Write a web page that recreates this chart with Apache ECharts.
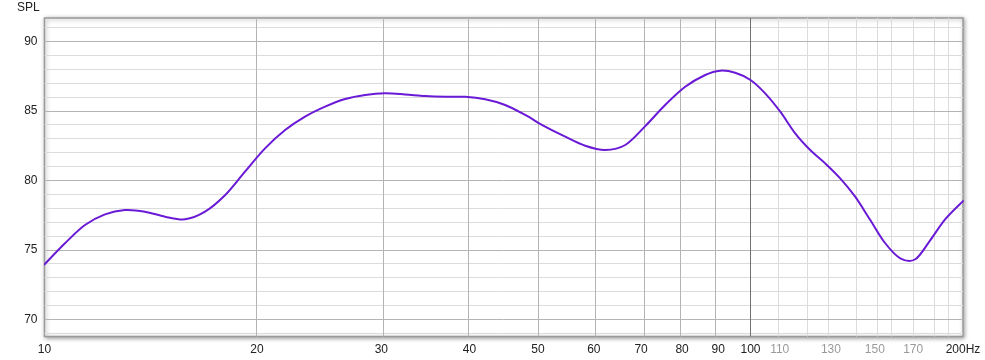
<!DOCTYPE html>
<html>
<head>
<meta charset="utf-8">
<script src="https://cdn.jsdelivr.net/npm/echarts@6/dist/echarts.min.js"></script>
<style>html,body{margin:0;padding:0;background:#fff;}#c{width:985px;height:360px;}</style>
</head>
<body>
<div id="c"></div>
<script>
// Frequency response data (Hz, dB SPL)
const freqs = [10, 10.69, 11.41, 12.18, 13.0, 13.88, 14.82, 15.82, 16.88, 18.03, 19.23, 20.53, 21.92, 23.39, 24.97, 26.66, 28.46, 30.37, 32.42, 34.61, 36.94, 39.43, 42.09, 44.93, 47.96, 51.19, 54.65, 58.33, 62.26, 66.46, 70.95, 75.7, 80.82, 86.27, 90.59, 95.13, 100, 104.9, 110.2, 115.7, 121.5, 127.6, 134.0, 140.7, 147.8, 155.2, 163.0, 171.2, 179.8, 188.8, 200];
const spl = [73.95, 75.47, 76.78, 77.55, 77.86, 77.74, 77.38, 77.19, 77.74, 78.94, 80.62, 82.3, 83.62, 84.58, 85.3, 85.85, 86.14, 86.26, 86.18, 86.06, 86.01, 86.01, 85.83, 85.42, 84.7, 83.86, 83.14, 82.49, 82.18, 82.54, 83.9, 85.42, 86.73, 87.58, 87.89, 87.74, 87.22, 86.26, 84.94, 83.38, 82.18, 81.22, 80.14, 78.82, 77.14, 75.47, 74.39, 74.32, 75.7, 77.2, 78.5];

// Tick labels
const xLabelTicks = [10, 20, 30, 40, 50, 60, 70, 80, 90, 100, 110, 130, 150, 170, 200];
const xGrayLabels = [110, 130, 150, 170];
const xMajorLines = [20, 30, 40, 50, 60, 70, 80, 90];
const xDecadeLines = [100];
const xMinorLines = [110, 120, 130, 140, 150, 160, 170, 180, 190];
const yLabelTicks = [70, 75, 80, 85, 90];
const yMajorLines = [70, 75, 80, 85, 90];
const yMinorLines = [69, 71, 72, 73, 74, 76, 77, 78, 79, 81, 82, 83, 84, 86, 87, 88, 89, 91];

const lg = v => Math.log10(v);
const seriesData = freqs.map((f, i) => [lg(f), spl[i]]);

const gridLines = [];
yMinorLines.forEach(v => gridLines.push({yAxis: v, lineStyle: {color: '#dcdcdc', width: 1, type: 'solid'}}));
xMinorLines.forEach(v => gridLines.push({xAxis: lg(v), lineStyle: {color: '#dcdcdc', width: 1, type: 'solid'}}));
yMajorLines.forEach(v => gridLines.push({yAxis: v, lineStyle: {color: '#b4b4b4', width: 1, type: 'solid'}}));
xMajorLines.forEach(v => gridLines.push({xAxis: lg(v), lineStyle: {color: '#b4b4b4', width: 1, type: 'solid'}}));
xDecadeLines.forEach(v => gridLines.push({xAxis: lg(v), lineStyle: {color: '#707070', width: 1, type: 'solid'}}));

// Smooth curve (Catmull-Rom) through the data points, positioned via the axes
function renderCurve(params, api) {
  if (params.dataIndex !== 0) return null;
  const pts = seriesData.map(d => api.coord(d));
  let path = 'M' + pts[0][0] + ' ' + pts[0][1];
  for (let i = 0; i < pts.length - 1; i++) {
    const p0 = pts[i - 1] || pts[i];
    const p1 = pts[i];
    const p2 = pts[i + 1];
    const p3 = pts[i + 2] || pts[i + 1];
    const c1x = p1[0] + (p2[0] - p0[0]) / 6, c1y = p1[1] + (p2[1] - p0[1]) / 6;
    const c2x = p2[0] - (p3[0] - p1[0]) / 6, c2y = p2[1] - (p3[1] - p1[1]) / 6;
    path += ' C' + c1x + ' ' + c1y + ' ' + c2x + ' ' + c2y + ' ' + p2[0] + ' ' + p2[1];
  }
  return {
    type: 'path',
    shape: {pathData: path},
    style: {stroke: '#6a1ad6', lineWidth: 2, fill: 'none', lineJoin: 'round', lineCap: 'round'}
  };
}

const chart = echarts.init(document.getElementById('c'), null, {renderer: 'canvas'});
chart.setOption({
  animation: false,
  backgroundColor: '#fff',
  title: {
    text: 'SPL', left: 17, top: 2, padding: 0,
    textStyle: {fontFamily: 'Liberation Sans, Arial, sans-serif', fontSize: 12, fontWeight: 'normal', color: '#222'}
  },
  grid: {
    left: 44.5, right: 22, top: 18, bottom: 23.5,
    show: true, backgroundColor: '#fff',
    borderColor: '#9a9a9a', borderWidth: 1.5,
    shadowBlur: 4, shadowColor: 'rgba(0,0,0,0.35)', shadowOffsetX: 1, shadowOffsetY: 1
  },
  xAxis: {
    type: 'value', min: lg(10), max: lg(200),
    axisLine: {show: false}, axisTick: {show: false}, splitLine: {show: false},
    axisLabel: {
      customValues: xLabelTicks.map(lg),
      margin: 7,
      fontFamily: 'Liberation Sans, Arial, sans-serif', fontSize: 12, color: '#222',
      formatter: function (v) {
        const f = Math.round(Math.pow(10, v));
        if (f === 200) return '200Hz';
        if (xGrayLabels.indexOf(f) >= 0) return '{g|' + f + '}';
        return String(f);
      },
      rich: {g: {color: '#9a9a9a', fontSize: 12, fontFamily: 'Liberation Sans, Arial, sans-serif'}}
    }
  },
  yAxis: {
    type: 'value', min: 68.76, max: 91.68,
    axisLine: {show: false}, axisTick: {show: false}, splitLine: {show: false},
    axisLabel: {
      customValues: yLabelTicks,
      margin: 7,
      fontFamily: 'Liberation Sans, Arial, sans-serif', fontSize: 12, color: '#222'
    }
  },
  series: [
    {
      type: 'line', data: [], z: 1, silent: true,
      markLine: {silent: true, symbol: ['none', 'none'], label: {show: false}, animation: false, data: gridLines}
    },
    {
      type: 'custom', data: seriesData, z: 5, silent: true, clip: true,
      encode: {x: 0, y: 1},
      renderItem: renderCurve
    }
  ]
});
</script>
</body>
</html>
